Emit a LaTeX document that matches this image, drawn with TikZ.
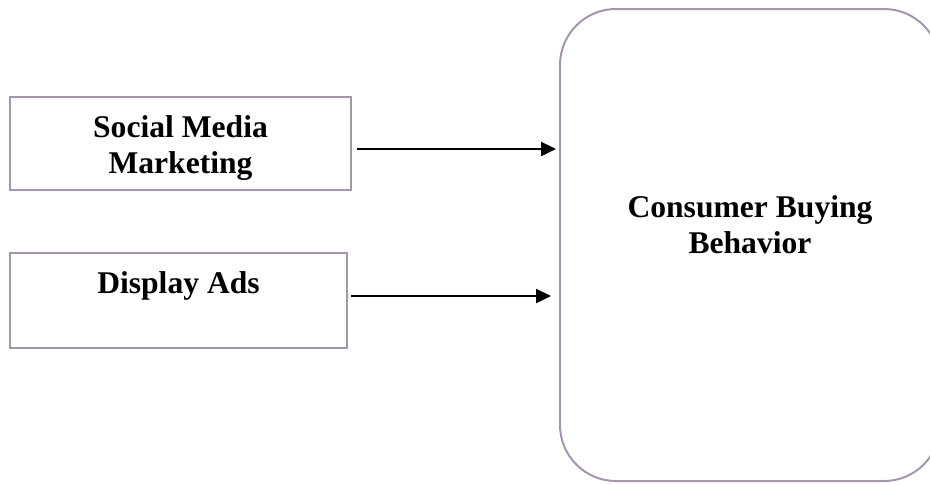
\documentclass[tikz,border=0pt]{standalone}
\usepackage{fontspec}
\setmainfont{Liberation Serif}
\usetikzlibrary{arrows.meta}
\definecolor{Frame}{HTML}{A497AB}
\definecolor{Ink}{HTML}{000000}
\tikzset{
    factorbox/.style={rectangle, draw=Frame, line width=1pt, inner sep=0pt, text=Ink, align=center, font=\bfseries\fontsize{15.8}{18}\selectfont, text height=20pt},
    outcomebox/.style={factorbox, rounded corners=28pt},
    flow/.style={-{Triangle[length=7.5pt, width=7pt]}, line width=1.2pt, color=Ink},
}
\begin{document}
\begin{tikzpicture}[x=0.5pt, y=-0.5pt]
    % Rahmen
    \useasboundingbox (0,0) rectangle (930,484);
    \clip (0,0) rectangle (930,484);

    % Einflussfaktoren
    \node[factorbox, minimum width=170.5pt, text height=38pt, text depth=8.5pt] (smm) at (180.5,143.5) {Social Media\\Marketing};
    \node[factorbox, minimum width=168.5pt, text depth=27.5pt] (dis) at (178.5,300.5) {Display Ads};

    % Zielgroesse
    \node[outcomebox, minimum width=190pt, text height=122pt, text depth=114pt] (cbb) at (750,245) {Consumer Buying\\Behavior};

    % Pfeile
    \coordinate (s1) at ([shift={(2.5pt,-2.75pt)}]smm.east);
    \coordinate (s2) at ([shift={(1.5pt,2.25pt)}]dis.east);
    \draw[flow, shorten >=1.5pt] (s1) -- (s1 -| cbb.west);
    \draw[flow, shorten >=4pt] (s2) -- (s2 -| cbb.west);
\end{tikzpicture}
\end{document}
